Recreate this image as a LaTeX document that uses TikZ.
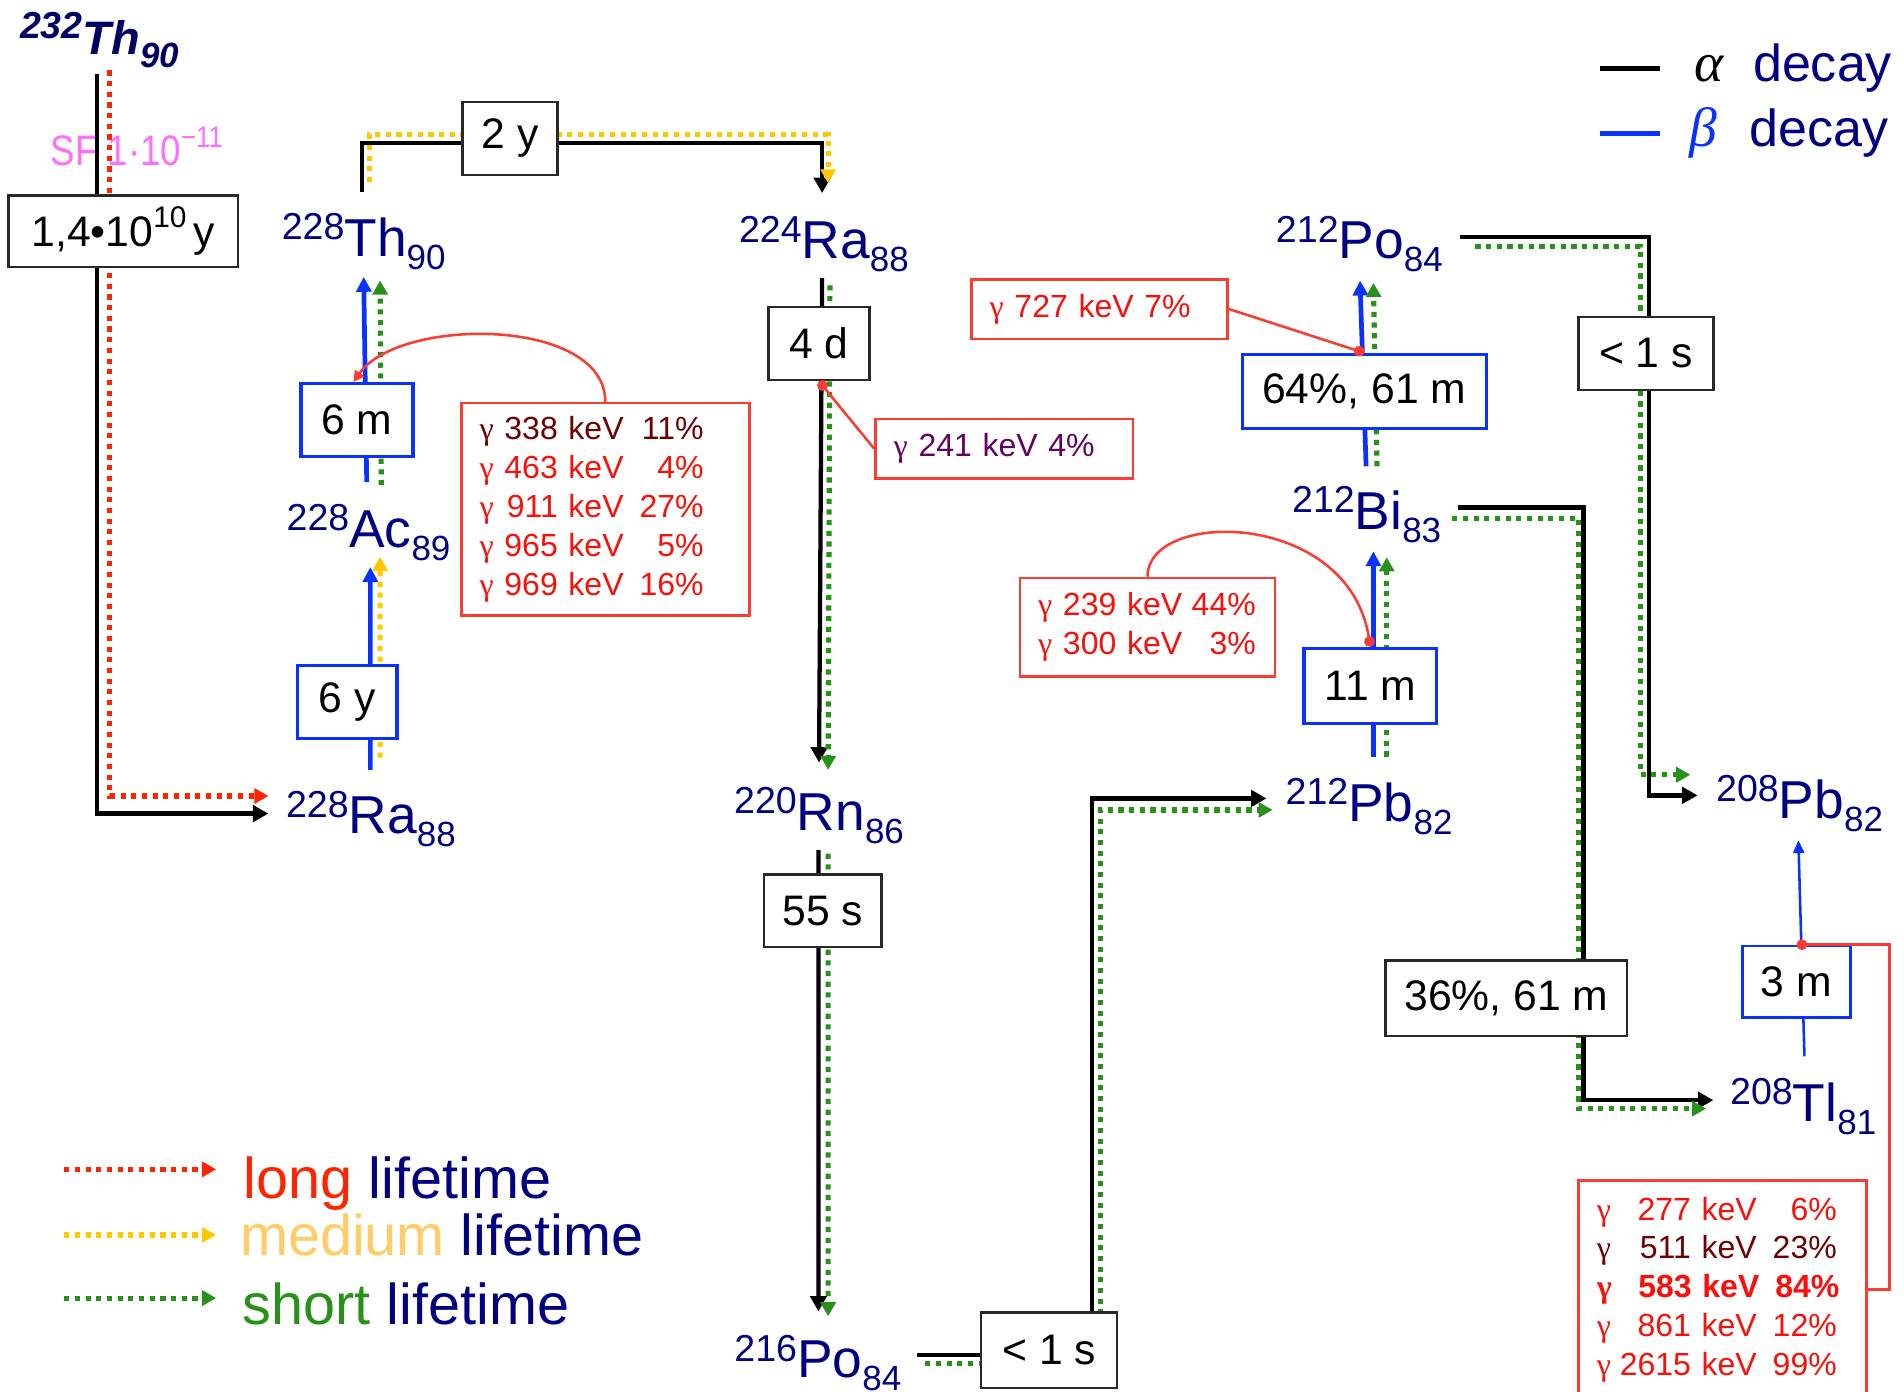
\documentclass[tikz,border=0pt]{standalone}
\usepackage{fontspec}
\setmainfont{Liberation Sans}
\newfontfamily\greekserif{Liberation Serif}
\usetikzlibrary{arrows.meta,calc}

\definecolor{nucblue}{RGB}{0,0,128}
\definecolor{darknavy}{RGB}{0,0,100}
\definecolor{bblue}{RGB}{10,50,255}
\definecolor{lred}{RGB}{255,35,0}
\definecolor{lyellow}{RGB}{255,200,0}
\definecolor{lgreen}{RGB}{40,145,25}
\definecolor{medtext}{RGB}{255,204,102}
\definecolor{sfpink}{RGB}{255,110,255}
\definecolor{gred}{RGB}{250,60,50}
\definecolor{gtext}{RGB}{250,15,10}
\definecolor{gdark}{RGB}{110,0,0}
\definecolor{gpurple}{RGB}{100,0,100}
\definecolor{boxgray}{RGB}{40,40,40}

% nuclide label: mass number, symbol, charge number
\newcommand{\nuc}[3]{\raisebox{3.9pt}{\fontsize{8.8}{10}\selectfont #1}#2\raisebox{-3.1pt}{\fontsize{8.2}{10}\selectfont #3}}
% gamma line: colour, energy, intensity
\newcommand{\gsym}{{\greekserif γ}}
\newlength{\gamew}
\newlength{\gampw}
\newcommand{\gam}[3]{\textcolor{#1}{\gsym\makebox[\gamew][r]{#2} keV\makebox[\gampw][r]{#3}}}

\begin{document}
\begin{tikzpicture}[x=1cm, y=-1cm,
    nuc/.style={text=nucblue, inner sep=0pt, font=\fontsize{12.5}{14}\selectfont},
    life/.style={draw=boxgray, line width=0.6pt, fill=white, inner sep=0pt, font=\fontsize{10}{12}\selectfont},
    lifeb/.style={life, draw=bblue, line width=0.8pt},
    gbox/.style={draw=gred, line width=0.6pt, fill=white, inner xsep=0.15cm, inner ysep=0pt, align=left, font=\fontsize{7.5}{9.1}\selectfont},
    adecay/.style={line width=1pt, -{Triangle[length=3.6pt,width=3.8pt]}},
    bdecay/.style={bblue, line width=1.1pt, -{Triangle[length=3.5pt,width=3.5pt]}},
    bthin/.style={bblue, line width=0.6pt, -{Triangle[length=3pt,width=2.6pt]}},
    dotline/.style={line width=1.2pt, dash pattern=on 1.2pt off 1.3pt, -{Triangle[length=3.3pt,width=3.5pt]}},
    lifelong/.style={dotline, lred},
    lifemed/.style={dotline, lyellow},
    lifeshort/.style={dotline, lgreen},
    gline/.style={gred, line width=0.6pt},
    gdot/.style={{Circle[length=2.5pt]}-}
  ]
  \useasboundingbox (0,0) rectangle (15.68,11.46);

  % fission branch, under the lines
  \node[anchor=base west, inner sep=0pt, text=sfpink, font=\fontsize{10}{12}\selectfont] (sf) at (0.41,1.36)
    {\scalebox{0.86}[1]{SF 1·10\raisebox{0.8ex}{\fontsize{7}{8}\selectfont −11}}};

  % nuclides
  \node[nuc, text=darknavy, font=\fontsize{11}{13}\selectfont\bfseries\itshape] (th232) at (0.82,0.33) {\nuc{232}{Th}{90}};
  \node[nuc] (th228) at (2.995,1.99) {\nuc{228}{Th}{90}};
  \node[nuc] (ra224) at (6.785,2.01) {\nuc{224}{Ra}{88}};
  \node[nuc] (po212) at (11.195,2.01) {\nuc{212}{Po}{84}};
  \node[nuc] (ac228) at (3.035,4.385) {\nuc{228}{Ac}{89}};
  \node[nuc] (bi212) at (11.255,4.24) {\nuc{212}{Bi}{83}};
  \node[nuc] (ra228) at (3.055,6.745) {\nuc{228}{Ra}{88}};
  \node[nuc] (rn220) at (6.745,6.715) {\nuc{220}{Rn}{86}};
  \node[nuc] (pb212) at (11.275,6.645) {\nuc{212}{Pb}{82}};
  \node[nuc] (pb208) at (14.82,6.62) {\nuc{208}{Pb}{82}};
  \node[nuc] (tl208) at (14.85,9.115) {\nuc{208}{Tl}{81}};
  \node[nuc] (po216) at (6.735,11.225) {\nuc{216}{Po}{84}};

  % decays
  \draw[adecay] ($(th232)+(-0.02,0.28)$) |- ($(ra228)+(-0.845,-0.045)$);
  \draw[lifelong] ($(th232)+(0.085,0.25)$) |- ($(ra228)+(-0.845,-0.19)$);

  \draw[bdecay] ($(ra228)+(-0.005,-0.405)$) -- ($(ac228)+(0.015,0.285)$);
  \draw[lifemed] ($(ra228)+(0.075,-0.505)$) -- ($(ac228)+(0.095,0.20)$);

  \draw[bdecay] ($(ac228)+(-0.015,-0.415)$) -- ($(th228)+(0,0.29)$);
  \draw[lifeshort] ($(ac228)+(0.105,-0.39)$) -- ($(th228)+(0.135,0.32)$);

  \draw[adecay] ($(th228)+(-0.015,-0.41)$) |- ($(ra224)+(-0.015,-0.83)$) -- ($(ra224)+(-0.015,-0.42)$);
  \draw[lifemed] ($(th228)+(0.045,-0.49)$) |- ($(ra224)+(0.035,-0.90)$) -- ($(ra224)+(0.035,-0.50)$);

  \draw[adecay] ($(ra224)+(-0.015,0.28)$) -- ($(rn220)+(0,-0.435)$);
  \draw[lifeshort] ($(ra224)+(0.05,0.34)$) -- ($(rn220)+(0.075,-0.375)$);

  \draw[adecay] ($(rn220)+(-0.005,0.285)$) -- ($(po216)+(0.005,-0.425)$);
  \draw[lifeshort] ($(rn220)+(0.075,0.315)$) -- ($(po216)+(0.085,-0.385)$);

  \draw[adecay] ($(po216)+(0.815,-0.065)$) -| ($(pb212)+(-2.285,-0.07)$) -- ($(pb212)+(-0.845,-0.07)$);
  \draw[lifeshort] ($(po216)+(0.885,0.005)$) -| ($(pb212)+(-2.215,0.025)$) -- ($(pb212)+(-0.795,0.025)$);

  \draw[bdecay] ($(pb212)+(0.035,-0.415)$) -- ($(bi212)+(0.055,0.30)$);
  \draw[lifeshort] ($(pb212)+(0.145,-0.415)$) -- ($(bi212)+(0.165,0.35)$);

  \draw[bdecay] ($(bi212)+(-0.005,-0.40)$) -- ($(po212)+(0.005,0.30)$);
  \draw[lifeshort] ($(bi212)+(0.085,-0.40)$) -- ($(po212)+(0.115,0.32)$);

  \draw[adecay] ($(po212)+(0.825,-0.06)$) -| ($(pb208)+(-1.24,-0.07)$) -- ($(pb208)+(-0.84,-0.07)$);
  \draw[lifeshort] ($(po212)+(0.955,0.02)$) -| ($(pb208)+(-1.31,-0.24)$) -- ($(pb208)+(-0.90,-0.24)$);

  \draw[adecay] ($(bi212)+(0.755,-0.06)$) -| ($(tl208)+(-1.81,-0.055)$) -- ($(tl208)+(-0.74,-0.055)$);
  \draw[lifeshort] ($(bi212)+(0.705,0.03)$) -| ($(tl208)+(-1.85,0.015)$) -- ($(tl208)+(-0.80,0.015)$);

  \draw[bthin] ($(tl208)+(0.01,-0.415)$) -- ($(pb208)+(-0.01,0.30)$);

  % half-lives
  \node[life, minimum width=1.89cm, minimum height=0.59cm] (b14) at (1.015,1.905) {1,4•10\raisebox{0.85ex}{\fontsize{7}{8}\selectfont 10}\,y};
  \node[life, minimum width=0.78cm, minimum height=0.60cm] (b2y) at (4.20,1.14) {2 y};
  \node[life, minimum width=0.83cm, minimum height=0.60cm] (b4d) at (6.745,2.83) {4 d};
  \node[life, minimum width=0.97cm, minimum height=0.60cm] (b55s) at (6.775,7.50) {55 s};
  \node[life, minimum width=1.12cm, minimum height=0.62cm] (b1sa) at (8.64,11.12) {< 1 s};
  \node[life, minimum width=1.11cm, minimum height=0.60cm] (b1sb) at (13.555,2.91) {< 1 s};
  \node[life, minimum width=1.99cm, minimum height=0.62cm] (b36) at (12.405,8.22) {36\%, 61 m};
  \node[lifeb, minimum width=0.92cm, minimum height=0.60cm] (b6m) at (2.94,3.46) {6 m};
  \node[lifeb, minimum width=0.82cm, minimum height=0.60cm] (b6y) at (2.86,5.78) {6 y};
  \node[lifeb, minimum width=2.01cm, minimum height=0.61cm] (b64) at (11.235,3.225) {64\%, 61 m};
  \node[lifeb, minimum width=1.09cm, minimum height=0.62cm] (b11m) at (11.285,5.65) {11 m};
  \node[lifeb, minimum width=0.89cm, minimum height=0.59cm, line width=0.6pt] (b3m) at (14.795,8.085) {3 m};

  % gamma lines
  \node[gbox, text width=2.07cm, minimum height=1.75cm] (gAc) at (4.985,4.195) {\setlength{\gamew}{2em}\setlength{\gampw}{2.5em}%
    \gam{gdark}{338}{11\%}\\
    \gam{gtext}{463}{4\%}\\
    \gam{gtext}{911}{27\%}\\
    \gam{gtext}{965}{5\%}\\
    \gam{gtext}{969}{16\%}};
  \node[gbox, text width=1.82cm, minimum height=0.49cm] (g241) at (8.27,3.695) {\textcolor{gpurple}{\gsym\ 241 keV 4\%}};
  \node[gbox, text width=1.81cm, minimum height=0.49cm] (g727) at (9.055,2.545) {\textcolor{gtext}{\gsym\ 727 keV 7\%}};
  \node[gbox, text width=1.80cm, minimum height=0.81cm] (gBi) at (9.45,5.165) {\setlength{\gamew}{2em}\setlength{\gampw}{2.3em}%
    \gam{gtext}{239}{44\%}\\
    \gam{gtext}{300}{3\%}};
  \node[gbox, text width=2.07cm, minimum height=1.80cm] (gTl) at (14.185,10.62) {\setlength{\gamew}{2.5em}\setlength{\gampw}{2.5em}%
    \gam{gtext}{277}{6\%}\\
    \gam{gdark}{511}{23\%}\\
    \textbf{\gam{gtext}{583}{84\%}}\\
    \gam{gtext}{861}{12\%}\\
    \gam{gtext}{2615}{99\%}};

  \draw[gline, {Triangle[length=2.6pt,width=2.6pt]}-] ($(b6m.north)+(-0.03,0)$) .. controls +(0.38,-0.54) and +(0,-0.70) .. (gAc.north);
  \draw[gline, gdot] (b4d.south) -- (g241.west);
  \draw[gline, gdot] (b64.north) -- (g727.east);
  \draw[gline, gdot] (b11m.north) .. controls +(-0.18,-1.13) and +(0,-0.56) .. (gBi.north);
  \draw[gline, gdot] (b3m.north) -| ($(gTl.east)+(0.18,0)$) -- (gTl.east);

  % legend: decay type
  \node[anchor=base west, inner sep=0pt, font=\greekserif\itshape\fontsize{13}{15}\selectfont] (lga) at (13.95,0.675) {α};
  \node[anchor=base west, inner sep=0pt, text=nucblue, font=\fontsize{12.2}{14}\selectfont] (lgad) at (14.43,0.675) {decay};
  \node[anchor=base west, inner sep=0pt, text=bblue, font=\greekserif\itshape\fontsize{13}{15}\selectfont] (lgb) at (13.91,1.21) {β};
  \node[anchor=base west, inner sep=0pt, text=nucblue, font=\fontsize{12.2}{14}\selectfont] (lgbd) at (14.40,1.21) {decay};
  \draw[line width=1.3pt] ($(lga.base west)+(-0.77,-0.11)$) -- ++(0.49,0);
  \draw[bblue, line width=1.3pt] ($(lgb.base west)+(-0.73,-0.11)$) -- ++(0.49,0);

  % legend: lifetime
  \node[anchor=base west, inner sep=0pt, font=\fontsize{13.5}{16}\selectfont] (lglong) at (2.00,9.87) {\textcolor{lred}{long} \textcolor{nucblue}{lifetime}};
  \node[anchor=base west, inner sep=0pt, font=\fontsize{13.5}{16}\selectfont] (lgmed) at (1.97,10.34) {\textcolor{medtext}{medium} \textcolor{nucblue}{lifetime}};
  \node[anchor=base west, inner sep=0pt, font=\fontsize{13.5}{16}\selectfont] (lgshort) at (1.99,10.91) {\textcolor{lgreen}{short} \textcolor{nucblue}{lifetime}};
  \draw[lifelong] ($(lglong.base west)+(-1.47,-0.24)$) -- ++(1.25,0);
  \draw[lifemed] ($(lgmed.base west)+(-1.44,-0.17)$) -- ++(1.25,0);
  \draw[lifeshort] ($(lgshort.base west)+(-1.46,-0.22)$) -- ++(1.25,0);
\end{tikzpicture}
\end{document}
